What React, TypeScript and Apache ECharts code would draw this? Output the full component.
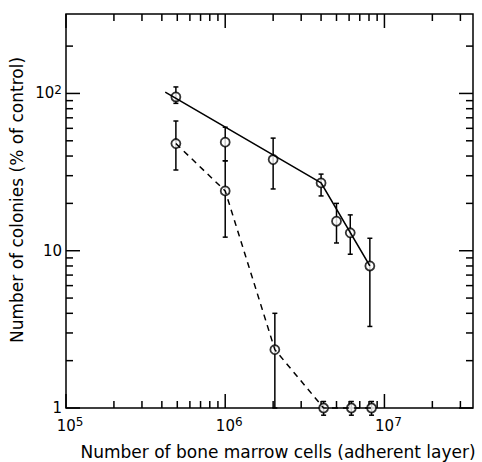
import React, { useEffect, useRef } from "react";
import * as echarts from "echarts";

// Axis ranges and ticks
const xMin = 1e5;
const xMax = 3.6e7;
const yMin = 1;
const yMax = 320;
const xMajorTicks = [1e5, 1e6, 1e7];
const yMajorTicks = [1, 10, 100];
const xMinorTicks = [
  2e5, 3e5, 4e5, 5e5, 6e5, 7e5, 8e5, 9e5,
  2e6, 3e6, 4e6, 5e6, 6e6, 7e6, 8e6, 9e6,
  2e7, 3e7,
];
const yMinorTicks = [2, 3, 4, 5, 6, 7, 8, 9, 20, 30, 40, 50, 60, 70, 80, 90, 200];

// Solid series (points with error bars)
const solidX = [4.9e5, 1.0e6, 2.0e6, 4.0e6, 5.0e6, 6.1e6, 8.1e6];
const solidY = [95, 49, 38, 27, 15.4, 13, 8.0];
const solidLow = [86.5, 37.3, 24.7, 22.3, 11.2, 9.5, 3.3];
const solidHigh = [110, 61, 52, 30.7, 20, 16.9, 12];
// Solid fitted line
const solidFitX = [4.2e5, 4.0e6, 8.1e6];
const solidFitY = [102, 27, 8.0];

// Dashed series
const dashedX = [4.9e5, 1.0e6, 2.05e6, 4.15e6, 6.2e6, 8.3e6];
const dashedY = [48, 24, 2.35, 1, 1, 1];
const dashedLow = [32.6, 12.2, 1, 0.9, 0.9, 0.9];
const dashedHigh = [66.8, 37.3, 4.0, 1.1, 1.1, 1.1];

const FONT = '"DejaVu Sans", sans-serif';
const MAJOR_LEN = 14;
const MINOR_LEN = 7;

const isPow10 = (v: number) => {
  const l = Math.log10(v);
  return Math.abs(l - Math.round(l)) < 1e-6;
};

const rich = {
  b: { fontSize: 15, fontFamily: FONT, color: "#000", lineHeight: 19 },
  s: { fontSize: 12, fontFamily: FONT, color: "#000", lineHeight: 12, verticalAlign: "top" },
  sp: { width: 8 },
};

export default function App() {
  const ref = useRef<HTMLDivElement>(null);

  useEffect(() => {
    if (!ref.current) return;
    const chart = echarts.init(ref.current, undefined, { renderer: "svg" });

    const tickStyle = { stroke: "#000", lineWidth: 1.5 };

    const xTickData = [
      ...xMajorTicks.map((v) => [v, yMin, MAJOR_LEN]),
      ...xMinorTicks.map((v) => [v, yMin, MINOR_LEN]),
    ];
    const yTickData = [
      ...yMajorTicks.map((v) => [xMin, v, MAJOR_LEN]),
      ...yMinorTicks.map((v) => [xMin, v, MINOR_LEN]),
    ];

    const errData = (xs: number[], lo: number[], hi: number[]) =>
      xs.map((x, i) => [x, lo[i], hi[i]]);

    const errRender = (params: any, api: any) => {
      const x = api.value(0);
      const p1 = api.coord([x, api.value(1)]);
      const p2 = api.coord([x, api.value(2)]);
      const hw = 2.5;
      return {
        type: "group",
        children: [
          { type: "line", shape: { x1: p1[0], y1: p1[1], x2: p2[0], y2: p2[1] }, style: tickStyle },
          { type: "line", shape: { x1: p1[0] - hw, y1: p1[1], x2: p1[0] + hw, y2: p1[1] }, style: tickStyle },
          { type: "line", shape: { x1: p2[0] - hw, y1: p2[1], x2: p2[0] + hw, y2: p2[1] }, style: tickStyle },
        ],
      };
    };

    const option: any = {
      animation: false,
      backgroundColor: "#fff",
      grid: {
        left: 66,
        top: 14,
        width: 407,
        height: 394,
        show: true,
        borderColor: "#000",
        borderWidth: 1.5,
        backgroundColor: "transparent",
      },
      xAxis: {
        type: "log",
        logBase: 10,
        min: xMin,
        max: xMax,
        axisLine: { show: false },
        axisTick: { show: false },
        splitLine: { show: false },
        axisLabel: {
          margin: 8,
          color: "#000",
          formatter: (v: number) =>
            isPow10(v) ? `{sp|}{b|10}{s|${Math.round(Math.log10(v))}}` : "",
          rich,
        },
      },
      yAxis: {
        type: "log",
        logBase: 10,
        min: yMin,
        max: yMax,
        axisLine: { show: false },
        axisTick: { show: false },
        splitLine: { show: false },
        axisLabel: {
          margin: 4,
          color: "#000",
          formatter: (v: number) => {
            if (!isPow10(v)) return "";
            const e = Math.round(Math.log10(v));
            if (e === 0) return "{b|1}";
            if (e === 1) return "{b|10}";
            return `{b|10}{s|${e}}`;
          },
          rich,
        },
      },
      graphic: [
        {
          type: "text",
          x: 17,
          y: 200,
          rotation: Math.PI / 2,
          style: {
            text: "Number of colonies (% of control)",
            font: `17px ${FONT}`,
            fill: "#000",
            textAlign: "center",
            textVerticalAlign: "middle",
            align: "center",
            verticalAlign: "middle",
          },
        },
        {
          type: "text",
          x: 278,
          y: 452,
          style: {
            text: "Number of bone marrow cells (adherent layer)",
            font: `17px ${FONT}`,
            fill: "#000",
            textAlign: "center",
            textVerticalAlign: "middle",
            align: "center",
            verticalAlign: "middle",
          },
        },
      ],
      series: [
        {
          type: "custom",
          name: "xTicks",
          data: xTickData,
          silent: true,
          clip: false,
          renderItem: (params: any, api: any) => {
            const cs = params.coordSys;
            const px = api.coord([api.value(0), yMin])[0];
            const len = api.value(2);
            const bottom = cs.y + cs.height;
            return {
              type: "group",
              children: [
                { type: "line", shape: { x1: px, y1: bottom, x2: px, y2: bottom - len }, style: tickStyle },
                { type: "line", shape: { x1: px, y1: cs.y, x2: px, y2: cs.y + len }, style: tickStyle },
              ],
            };
          },
        },
        {
          type: "custom",
          name: "yTicks",
          data: yTickData,
          silent: true,
          clip: false,
          renderItem: (params: any, api: any) => {
            const cs = params.coordSys;
            const py = api.coord([xMin, api.value(1)])[1];
            const len = api.value(2);
            const right = cs.x + cs.width;
            return {
              type: "group",
              children: [
                { type: "line", shape: { x1: cs.x, y1: py, x2: cs.x + len, y2: py }, style: tickStyle },
                { type: "line", shape: { x1: right, y1: py, x2: right - len, y2: py }, style: tickStyle },
              ],
            };
          },
        },
        {
          type: "custom",
          name: "solidErr",
          data: errData(solidX, solidLow, solidHigh),
          clip: false,
          silent: true,
          renderItem: errRender,
        },
        {
          type: "custom",
          name: "dashedErr",
          data: errData(dashedX, dashedLow, dashedHigh),
          clip: false,
          silent: true,
          renderItem: errRender,
        },
        {
          type: "line",
          name: "solidFit",
          data: solidFitX.map((x, i) => [x, solidFitY[i]]),
          showSymbol: false,
          symbol: "none",
          clip: false,
          lineStyle: { color: "#000", width: 1.6, type: "solid" },
        },
        {
          type: "line",
          name: "dashedLine",
          data: dashedX.map((x, i) => [x, dashedY[i]]),
          showSymbol: false,
          symbol: "none",
          clip: false,
          lineStyle: { color: "#000", width: 1.5, type: [6, 5] },
        },
        {
          type: "scatter",
          name: "solidPts",
          data: solidX.map((x, i) => [x, solidY[i]]),
          symbol: "circle",
          symbolSize: 9,
          clip: false,
          itemStyle: { color: "#fff", borderColor: "#000", borderWidth: 1.8 },
        },
        {
          type: "scatter",
          name: "dashedPts",
          data: dashedX.map((x, i) => [x, dashedY[i]]),
          symbol: "circle",
          symbolSize: 9,
          clip: false,
          itemStyle: { color: "#fff", borderColor: "#000", borderWidth: 1.8 },
        },
      ],
    };

    chart.setOption(option);
    return () => chart.dispose();
  }, []);

  return (
    <div
      ref={ref}
      style={{ position: "fixed", left: 0, top: 0, width: 482, height: 462, background: "#fff" }}
    />
  );
}
